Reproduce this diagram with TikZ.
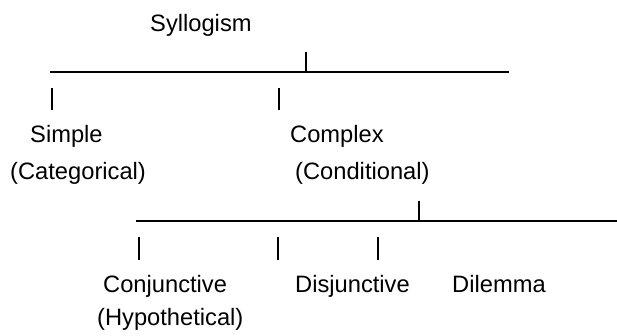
\documentclass[tikz,border=0pt]{standalone}
\usepackage{fontspec}
\setmainfont{Liberation Sans}
\begin{document}
\begin{tikzpicture}[x=1pt, y=-1pt,
                every node/.style = {anchor=base west, inner sep=0pt,
                                     font=\fontsize{23.7}{28}\selectfont},
                bar/.style = {line width=1.3pt},
                tick/.style = {line width=1.8pt}
            ]
            \useasboundingbox (0,0) rectangle (617,336);
            % labels
            \node (syllogism) at (150,32) {Syllogism};
            \node (simple) at (30,143) {Simple};
            \node (categorical) at (10,180) {(Categorical)};
            \node (complex) at (290,143) {Complex};
            \node (conditional) at (295,180) {(Conditional)};
            \node (conjunctive) at (103,292) {Conjunctive};
            \node (hypothetical) at (97,325) {(Hypothetical)};
            \node (disjunctive) at (295,292) {Disjunctive};
            \node (dilemma) at (452,292) {Dilemma};
            % first split
            \coordinate (bar1w) at (50,72);
            \coordinate (bar1e) at (509,72);
            \coordinate (bar1top) at (306,52);
            \coordinate (bar1bot) at (306,73);
            \coordinate (simpletop) at (52,88);
            \coordinate (simplebot) at (52,110);
            \coordinate (complextop) at (279,88);
            \coordinate (complexbot) at (279,110);
            \draw[bar] (bar1w) -- (bar1e);
            \draw[tick] (bar1top) -- (bar1bot);
            \draw[tick] (simpletop) -- (simplebot);
            \draw[tick] (complextop) -- (complexbot);
            % second split
            \coordinate (bar2w) at (136,221);
            \coordinate (bar2e) at (617,221);
            \coordinate (bar2top) at (419,201);
            \coordinate (bar2bot) at (419,222);
            \coordinate (conjtop) at (139,237);
            \coordinate (conjbot) at (139,260);
            \coordinate (midtop) at (278,237);
            \coordinate (midbot) at (278,260);
            \coordinate (disjtop) at (378,237);
            \coordinate (disjbot) at (378,260);
            \draw[bar] (bar2w) -- (bar2e);
            \draw[tick] (bar2top) -- (bar2bot);
            \draw[tick] (conjtop) -- (conjbot);
            \draw[tick] (midtop) -- (midbot);
            \draw[tick] (disjtop) -- (disjbot);
        \end{tikzpicture}
\end{document}
